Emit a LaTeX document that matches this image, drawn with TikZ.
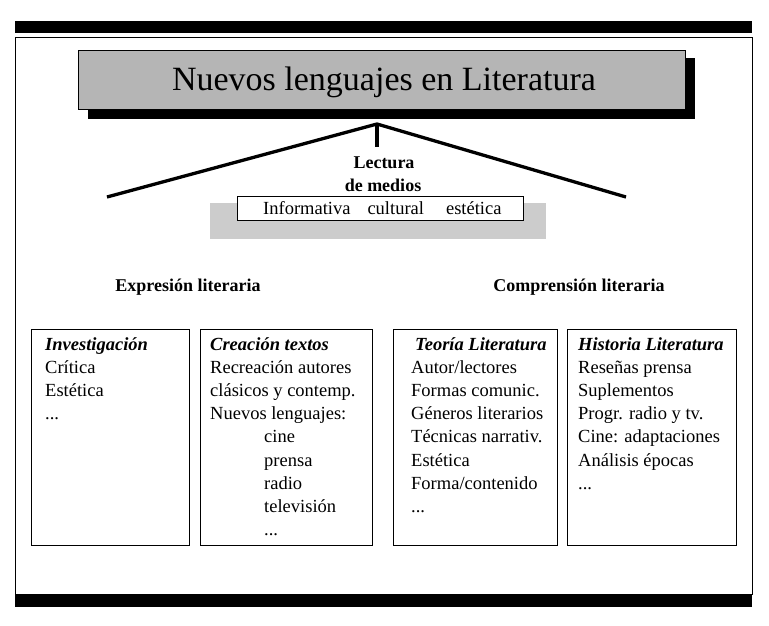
\documentclass[tikz,border=0pt]{standalone}
\usepackage{fontspec}
\setmainfont{Liberation Serif}
\def\tdots{...}
\begin{document}
\begin{tikzpicture}[x=1pt,y=-1pt,
  body/.style={font=\fontsize{18.5}{22}\selectfont, inner sep=0pt, anchor=base west},
  head/.style={font=\fontsize{18.5}{22}\selectfont\bfseries\itshape, inner sep=0pt, anchor=base west},
  lab/.style={font=\fontsize{18}{22}\selectfont\bfseries, inner sep=0pt, anchor=base},
  colbox/.style={draw, line width=1pt, anchor=north west, inner sep=0pt, minimum height=216pt},
  bar/.style={fill=black, anchor=north west, inner sep=0pt, minimum width=737pt, minimum height=12pt},
  branch/.style={line width=3.3pt, line join=miter}]
\definecolor{titlegray}{gray}{0.71}
\definecolor{softgray}{gray}{0.8}
\useasboundingbox (0,0) rectangle (769,625);
% frame and bars
\node[draw, line width=1pt, anchor=north west, inner sep=0pt, minimum width=737pt, minimum height=557pt] (frame) at (15,37) {};
\node[bar] (topbar) at (15,21) {};
\node[bar] (botbar) at (15,595) {};
% title
\node[fill=black, anchor=north west, inner sep=0pt, minimum width=607pt, minimum height=61pt] (shadow) at (88,58) {};
\node[draw, line width=1pt, fill=titlegray, anchor=north west, inner sep=0pt, minimum width=607pt, minimum height=59pt] (titlebox) at (78,50) {};
\node[font=\fontsize{34}{40}\selectfont, inner sep=0pt, anchor=base] (title) at (384,90) {Nuevos lenguajes en Literatura};
% branches
\coordinate (apex) at (377,124);
\coordinate (lend) at (107,197);
\coordinate (rend) at (626,197);
\coordinate (stub) at (377,147);
\draw[branch] (lend) -- (apex) -- (rend);
\draw[line width=4pt] (apex) -- (stub);
% lectura de medios
\node[lab] (lect1) at (384,168) {Lectura};
\node[lab] (lect2) at (383,191) {de medios};
\node[fill=softgray, anchor=north west, inner sep=0pt, minimum width=336pt, minimum height=36pt] (grayband) at (210,203) {};
\node[draw, line width=1pt, fill=white, anchor=north west, inner sep=0pt, minimum width=286pt, minimum height=24pt] (tipos) at (237,196) {};
\node[body] (tipostxt) at (263,214) {Informativa\hspace{17pt}cultural\hspace{22pt}estética};
% section labels
\node[lab] (expr) at (188,291) {Expresión literaria};
\node[lab] (compr) at (579,291) {Comprensión literaria};
% boxes
\node[colbox, minimum width=158pt] (boxA) at (31,329) {};
\node[colbox, minimum width=172pt] (boxB) at (200,329) {};
\node[colbox, minimum width=164pt] (boxC) at (393,329) {};
\node[colbox, minimum width=169pt] (boxD) at (567,329) {};
% box A
\node[head] (hA) at (45,350) {Investigación};
\foreach \t [count=\i] in {Crítica, Estética, \tdots}
  \node[body] (lA\i) at (45,{350+23.2*\i}) {\t};
% box B
\node[head] (hB) at (210,350) {Creación textos};
\foreach \t [count=\i] in {Recreación autores, clásicos y contemp., Nuevos lenguajes:}
  \node[body] (lB\i) at (210,{350+23.2*\i}) {\t};
\foreach \t [count=\i from 4] in {cine, prensa, radio, televisión, \tdots}
  \node[body] (lB\i) at (264,{350+23.2*\i}) {\t};
% box C
\node[head] (hC) at (415,350) {Teoría Literatura};
\foreach \t [count=\i] in {Autor/lectores, Formas comunic., Géneros literarios, Técnicas narrativ., Estética, Forma/contenido, \tdots}
  \node[body] (lC\i) at (411,{350+23.2*\i}) {\t};
% box D
\node[head] (hD) at (578,350) {Historia Literatura};
\foreach \t [count=\i] in {Reseñas prensa, Suplementos, Progr. radio y tv., Cine: adaptaciones, Análisis épocas, \tdots}
  \node[body] (lD\i) at (578,{350+23.2*\i}) {\t};
\end{tikzpicture}
\end{document}
